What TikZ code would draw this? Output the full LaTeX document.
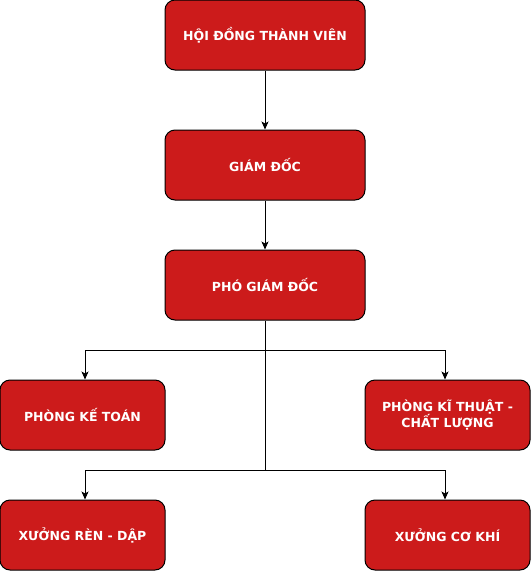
\documentclass[tikz,border=0pt]{standalone}
\usepackage{fontspec}
\setmainfont{DejaVu Sans}
\usepackage{xcolor}
\usetikzlibrary{arrows.meta}
\definecolor{boxred}{RGB}{204,27,27}

\begin{document}
\begin{tikzpicture}[x=1pt,y=-1pt,
        box/.style={draw=black, line width=1pt, fill=boxred, rounded corners=10pt,
            minimum height=70pt, inner sep=2pt, text=white, align=center,
            font=\fontsize{12.5}{15}\selectfont\bfseries},
        wide/.style={box, minimum width=200pt},
        narrow/.style={box, minimum width=165pt},
        link/.style={line width=0.8pt, -{Stealth[length=8pt,width=7pt,inset=2pt]}}]
        % Frame
        \useasboundingbox (0,0) rectangle (531,571);
        
        % Boxes
        \node[wide] (hdtv) at (265,35) {HỘI ĐỒNG THÀNH VIÊN};
        \node[wide] (gd) at (265,165) {GIÁM ĐỐC};
        \node[wide] (pgd) at (265,285) {PHÓ GIÁM ĐỐC};
        \node[narrow] (ketoan) at (82.5,415) {PHÒNG KẾ TOÁN};
        \node[narrow] (kythuat) at (447.5,415) {PHÒNG KĨ THUẬT -\\CHẤT LƯỢNG};
        \node[narrow] (rendap) at (82.5,535) {XƯỞNG RÈN - DẬP};
        \node[narrow] (cokhi) at (447.5,535) {XƯỞNG CƠ KHÍ};
        
        % Branch points
        \coordinate (split1) at (265,350);
        \coordinate (split2) at (265,470);
        
        % Links
        \draw[link] (hdtv) -- (gd);
        \draw[link] (gd) -- (pgd);
        \draw[line width=0.8pt] (pgd.south) -- (split2);
        \draw[link] (split1) -| ([xshift=2.5pt]ketoan.north);
        \draw[link] (split1) -| ([xshift=-2.5pt]kythuat.north);
        \draw[link] (split2) -| ([xshift=2.5pt]rendap.north);
        \draw[link] (split2) -| ([xshift=-2.5pt]cokhi.north);
    \end{tikzpicture}
\end{document}
